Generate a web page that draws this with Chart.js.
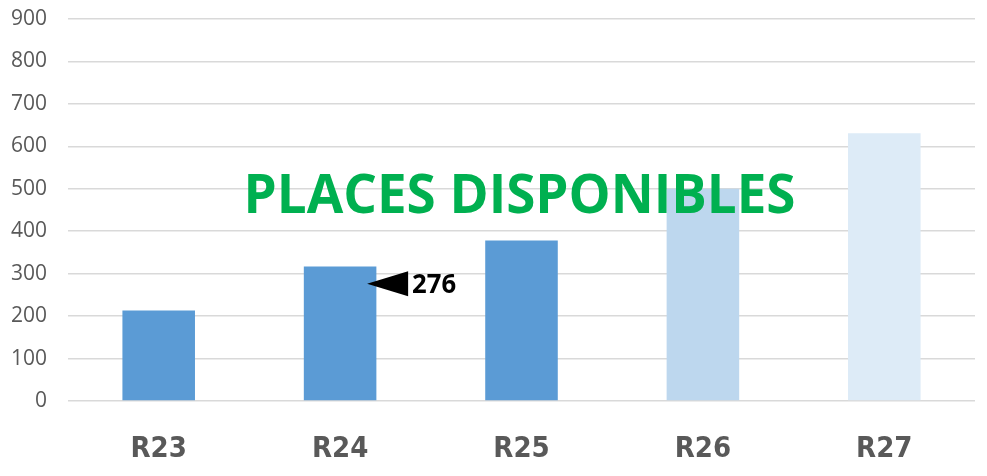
<!DOCTYPE html>
<html>
<head>
<meta charset="utf-8">
<script src="https://cdn.jsdelivr.net/npm/chart.js@4.4.1/dist/chart.umd.min.js"></script>
<style>
html,body{margin:0;padding:0;background:#fff;}
#wrap{width:987px;height:476px;position:relative;}
</style>
</head>
<body>
<div id="wrap"><canvas id="c" width="987" height="476"></canvas></div>
<script>
const categories = ["R23", "R24", "R25", "R26", "R27"];
const placesValues = [213, 317, 378, 500, 631];
const barColors = ["#5B9BD5", "#5B9BD5", "#5B9BD5", "#BDD7EE", "#DDEBF7"];
const yTicks = [0, 100, 200, 300, 400, 500, 600, 700, 800, 900];
const chartTitle = "PLACES DISPONIBLES";
const markerCategory = 1;   // R24
const markerValue = 276;
const markerLabel = "276";

function drawSquished(ctx, text, font, x, y, targetWidth, align) {
  ctx.save();
  ctx.font = font;
  const w = ctx.measureText(text).width;
  const sx = targetWidth / w;
  ctx.translate(x, y);
  ctx.scale(sx, 1);
  ctx.textBaseline = "middle";
  ctx.textAlign = align;
  ctx.fillText(text, 0, 0);
  ctx.restore();
}

const overlayPlugin = {
  id: "overlay",
  afterDatasetsDraw(chart) {
    const ctx = chart.ctx;
    const xs = chart.scales.x, ys = chart.scales.y;
    const cx = (chart.chartArea.left + chart.chartArea.right) / 2 - 2;
    ctx.fillStyle = "#00B050";
    drawSquished(ctx, chartTitle, "bold 53px 'Open Sans'", cx, ys.getPixelForValue(500) + 9, 552, "center");
    const bx = xs.getPixelForValue(markerCategory);
    const y = ys.getPixelForValue(markerValue);
    const tipX = bx + 27;
    ctx.save();
    ctx.fillStyle = "#000";
    ctx.beginPath();
    ctx.moveTo(tipX, y);
    ctx.lineTo(tipX + 41, y - 12.5);
    ctx.lineTo(tipX + 41, y + 12.5);
    ctx.closePath();
    ctx.fill();
    ctx.restore();
    ctx.fillStyle = "#000";
    drawSquished(ctx, markerLabel, "bold 27px 'Open Sans'", tipX + 45, y + 1, 44, "left");
  }
};

new Chart(document.getElementById("c"), {
  type: "bar",
  data: {
    labels: categories,
    datasets: [{
      data: placesValues,
      backgroundColor: barColors,
      borderWidth: 0,
      categoryPercentage: 1.0,
      barPercentage: 0.4
    }]
  },
  options: {
    responsive: false,
    animation: false,
    layout: { padding: { top: 19, right: 12, bottom: 0, left: 0 } },
    plugins: { legend: { display: false }, tooltip: { enabled: false }, title: { display: false } },
    scales: {
      x: {
        afterFit(scale) { scale.height = 75; scale.paddingLeft = 0; scale.paddingRight = 0; },
        grid: { display: false, drawTicks: false },
        border: { display: false },
        ticks: {
          color: "#595959",
          font: { family: "'DejaVu Sans Condensed', 'Open Sans'", size: 29, weight: "bold" },
          padding: 31
        }
      },
      y: {
        min: 0, max: 900,
        afterFit(scale) { scale.width = 68; scale.paddingTop = 0; scale.paddingBottom = 0; },
        afterBuildTicks(scale) { scale.ticks = yTicks.map(v => ({ value: v })); },
        grid: { color: "#D9D9D9", lineWidth: 1.5, drawTicks: false },
        border: { display: false },
        ticks: {
          color: "#595959",
          font: { family: "'Open Sans'", size: 21 },
          padding: 21
        }
      }
    }
  },
  plugins: [overlayPlugin]
});
</script>
</body>
</html>
